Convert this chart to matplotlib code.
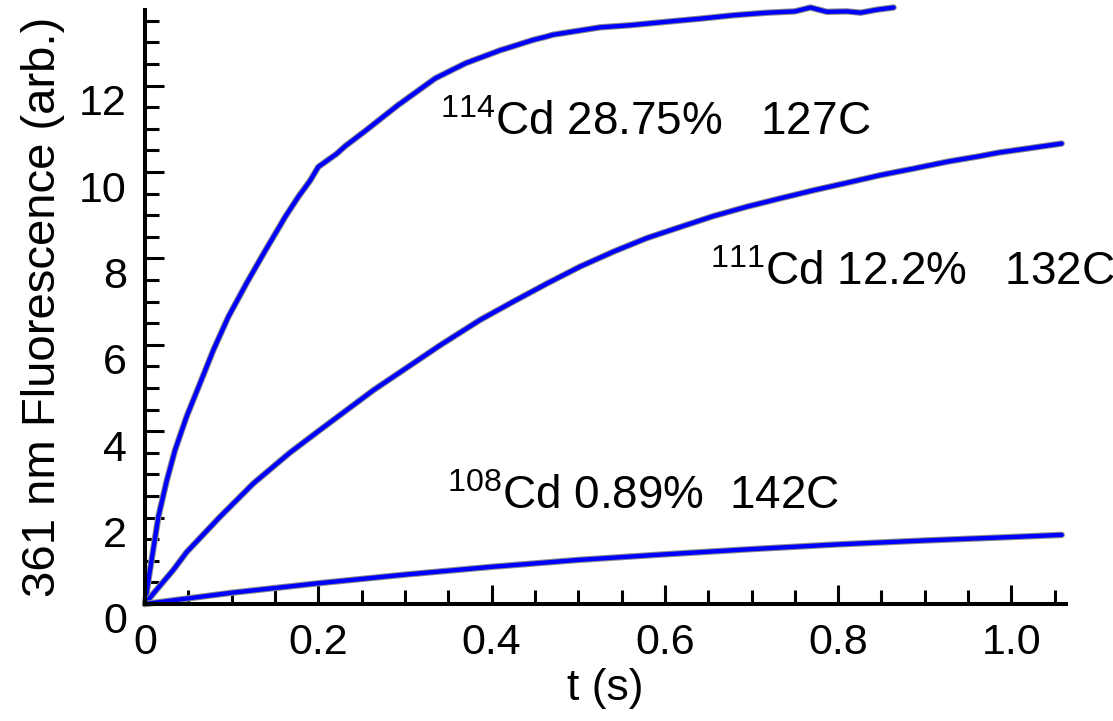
import numpy as np
import matplotlib.pyplot as plt
from matplotlib.ticker import MultipleLocator
from matplotlib.transforms import ScaledTranslation

plt.rcParams['font.family'] = ['Liberation Sans', 'DejaVu Sans']
plt.rcParams['mathtext.fontset'] = 'custom'
plt.rcParams['mathtext.rm'] = 'Liberation Sans'

# fluorescence traces, time in s
t_114 = [0.0, 0.004, 0.0154, 0.025, 0.0346, 0.048, 0.0635, 0.0789, 0.0962, 0.117,
         0.137, 0.162, 0.177, 0.1905, 0.200, 0.221, 0.231, 0.254, 0.292, 0.335,
         0.37, 0.41, 0.423, 0.448, 0.462, 0.471, 0.525, 0.56, 0.602, 0.64,
         0.679, 0.718, 0.75, 0.768, 0.787, 0.81, 0.826, 0.845, 0.864]
f_114 = [0.0, 0.56, 2.02, 2.85, 3.56, 4.34, 5.11, 5.88, 6.65, 7.42,
         8.12, 8.97, 9.43, 9.8, 10.12, 10.42, 10.6, 10.95, 11.55, 12.17,
         12.52, 12.82, 12.90, 13.06, 13.13, 13.18, 13.35, 13.40, 13.48, 13.55,
         13.63, 13.69, 13.72, 13.81, 13.71, 13.72, 13.69, 13.76, 13.81]

t_111 = [0.0, 0.01, 0.0327, 0.048, 0.0866, 0.125, 0.167, 0.2, 0.2636, 0.3406,
         0.387, 0.425, 0.464, 0.502, 0.541, 0.579, 0.618, 0.656, 0.695, 0.733,
         0.772, 0.810, 0.849, 0.887, 0.926, 0.964, 0.985, 1.02, 1.058]
f_111 = [0.0, 0.25, 0.79, 1.2, 2.02, 2.79, 3.5, 4.0, 4.95, 5.99,
         6.58, 7.0, 7.42, 7.81, 8.16, 8.47, 8.73, 8.98, 9.20, 9.39,
         9.58, 9.75, 9.93, 10.08, 10.24, 10.37, 10.45, 10.55, 10.66]

t_108 = [0.0, 0.05, 0.1, 0.2, 0.3, 0.4, 0.5, 0.6, 0.7, 0.8, 0.9, 1.0, 1.058]
f_108 = [0.0, 0.13, 0.26, 0.48, 0.68, 0.86, 1.02, 1.15, 1.27, 1.38, 1.47, 1.55, 1.6]

labels = [r'$^{114}$Cd 28.75%   127C', r'$^{111}$Cd 12.2%   132C', r'$^{108}$Cd 0.89%  142C']
label_pos = [(0.341, 10.86), (0.652, 7.38), (0.349, 2.2)]

fig = plt.figure(figsize=(11.13, 7.21), dpi=100)
ax = fig.add_axes([0.1303, 0.1623, 0.9578 - 0.1303, 0.986 - 0.1623])

for t, f in [(t_114, f_114), (t_111, f_111), (t_108, f_108)]:
    ax.plot(t, f, color='#8c8c8c', lw=4.6, clip_on=False, solid_capstyle='round')
    ax.plot(t, f, color='#0000ff', lw=3.1, clip_on=False, solid_capstyle='round')

for txt, (x, y) in zip(labels, label_pos):
    ax.text(x, y, txt, fontsize=33, ha='left', va='baseline')

ax.set_xlim(0, 1.063)
ax.set_ylim(0, 13.75)
for s in ['top', 'right']:
    ax.spines[s].set_visible(False)
for s in ['left', 'bottom']:
    ax.spines[s].set_linewidth(2.9)

ax.xaxis.set_major_locator(MultipleLocator(0.2))
ax.xaxis.set_minor_locator(MultipleLocator(0.05))
ax.yaxis.set_major_locator(MultipleLocator(2))
ax.yaxis.set_minor_locator(MultipleLocator(0.5))
ax.set_xticks([0, 0.2, 0.4, 0.6, 0.8, 1.0])
ax.set_xticklabels(['0', '0.2', '0.4', '0.6', '0.8', '1.0'])
ax.tick_params(which='both', direction='in', width=2.2, labelsize=31)
ax.tick_params(which='major', length=13.5)
ax.tick_params(which='minor', length=10)
ax.tick_params(axis='x', pad=14)
ax.tick_params(axis='y', pad=13)

# y labels sit a little below their ticks
shift = ScaledTranslation(0, -14 / 100, fig.dpi_scale_trans)
for lab in ax.get_yticklabels():
    lab.set_transform(lab.get_transform() + shift)

ax.set_xlabel('t (s)', fontsize=32, labelpad=3)
ax.set_ylabel('361 nm Fluorescence (arb.)', fontsize=34, labelpad=10)

fig.savefig('out.png', dpi=100)
